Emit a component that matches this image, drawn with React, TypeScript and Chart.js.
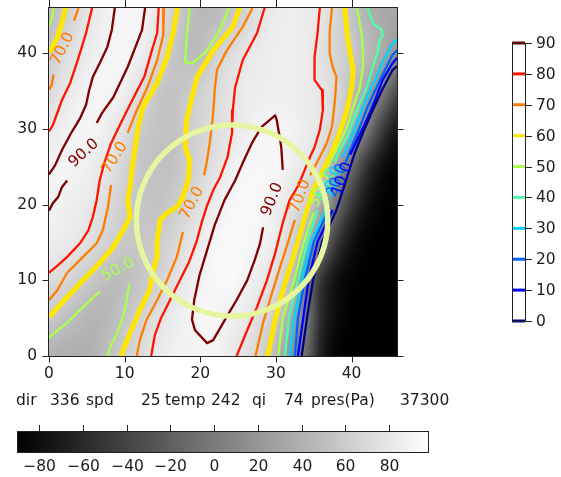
import React, { useEffect, useRef } from "react";
import { Chart, registerables } from "chart.js";
Chart.register(...registerables);

// ---------- axes ----------
const X_TICKS = [0, 10, 20, 30, 40];
const Y_TICKS = [0, 10, 20, 30, 40];
const X_MIN = 0, X_MAX = 46, Y_MIN = 0, Y_MAX = 46;

// ---------- contour levels ----------
const LEVELS = [0, 10, 20, 30, 40, 50, 60, 70, 80, 90];
const LEVEL_COLORS = ["#000080", "#0000ff", "#0063ff", "#00d4ff", "#4dffaa", "#aaff4d", "#ffe600", "#ff7d00", "#ff1400", "#800000"];

// ---------- background field (gray) ----------
const FIELD_MIN = -90.2, FIELD_MAX = 97.8;
const CB_TICKS = [-80, -60, -40, -20, 0, 20, 40, 60, 80];
const GRID_X = [0, 2, 4, 6, 8, 10, 12, 14, 16, 18, 20, 22, 24, 26, 28, 30, 32, 34, 36, 38, 40, 42, 44, 46];
const GRID_Y = [0, 5, 10, 15, 20, 25, 30, 35, 40, 45];
const F_Y0 = [40, 38, 37, 42, 52, 62, 72, 81, 86, 88, 89, 88, 83, 75, 65, 48, 15, -10, -70, -88, -90, -90, -90, -90];
const F_Y5 = [58, 52, 47, 42, 46, 55, 63, 74, 82, 88, 92, 91, 86, 82, 72, 58, 35, 2, -60, -82, -90, -90, -90, -90];
const F_Y10 = [72, 69, 62, 55, 48, 48, 55, 62, 72, 82, 89, 93, 94, 89, 83, 72, 53, 5, -55, -80, -88, -90, -90, -90];
const F_Y15 = [85, 83, 80, 71, 63, 57, 56, 59, 66, 76, 84, 91, 94, 93, 89, 83, 67, 40, 2, -50, -78, -88, -90, -90];
const F_Y20 = [89, 87, 84, 80, 70, 62, 56, 53, 57, 65, 76, 85, 91, 94, 92, 86, 78, 62, 35, -5, -50, -78, -88, -90];
const F_Y25 = [88, 91, 88, 84, 78, 65, 56, 52, 52, 59, 67, 76, 86, 91, 93, 92, 87, 80, 66, 27, -10, -55, -80, -88];
const F_Y30 = [82, 87, 91, 90, 84, 75, 59, 54, 52, 59, 66, 72, 79, 85, 90, 91, 88, 84, 79, 63, 40, 2, -45, -75];
const F_Y35 = [70, 80, 86, 91, 91, 86, 74, 58, 53, 57, 64, 71, 78, 83, 85, 86, 86, 84, 80, 70, 51, 33, 5, -35];
const F_Y40 = [58, 72, 80, 86, 91, 92, 87, 75, 58, 50, 48, 63, 73, 80, 84, 86, 86, 83, 76, 66, 59, 47, 37, 18];
const F_Y45 = [47, 60, 72, 82, 88, 93, 91, 82, 65, 53, 47, 47, 55, 66, 78, 84, 86, 84, 80, 67, 55, 41, 35, 32];
const FIELD_ROWS = [F_Y0, F_Y5, F_Y10, F_Y15, F_Y20, F_Y25, F_Y30, F_Y35, F_Y40, F_Y45];

// ---------- contour lines (x, y) ----------
const c50_a = [[0.6, 46], [0.4, 44.6], [0, 43.6]];
const c60_a = [[2.2, 46], [1.7, 44], [1.1, 42.1], [0.4, 40.7], [0, 40.2]];
const c70_a1 = [[3.9, 46], [3.3, 44.3]];
const c70_a2 = [[0.6, 37.2], [0.35, 35.8], [0, 35.2]];
const c80_a = [[5.7, 46], [4.9, 42.7], [3.8, 39.1], [2.8, 36.1], [1.7, 33.8], [0.5, 30.5], [0, 29.7]];
const c90_a = [[8.7, 46], [8.3, 43.1], [7.7, 40.8], [6.7, 38.7], [5.8, 36.9], [5.3, 35.1], [4.9, 33.2], [4.1, 31.4], [3.0, 29.6], [1.7, 27.2], [0.8, 25.2], [0, 24.0]];
const c90_b1 = [[12.7, 46], [12.3, 43.1], [11.6, 41.3], [10.4, 38.2], [8.5, 34.2], [7.0, 32.1], [6.3, 30.8]];
const c90_b2 = [[2.4, 23.2], [1.7, 22.3], [1.2, 21.0], [0.5, 20.2], [0, 19.2]];
const c80_b = [[14.5, 46], [14.3, 42.7], [13.6, 40.4], [12.6, 36.9], [11.0, 33.8], [9.5, 30.8], [8.2, 28.1], [7.3, 25.5], [6.7, 23.2], [6.3, 20.6], [5.8, 18.4], [5.2, 16.6], [4.1, 14.9], [2.4, 13.1], [1.2, 12.0], [0, 11.0]];
const c70_b1 = [[15.2, 46], [15.1, 42.4], [14.3, 39.1], [13.0, 35.5], [11.6, 32.5], [10.4, 29.5]];
const c70_b2 = [[8.2, 22.6], [7.8, 19.7], [7.1, 16.6], [6.3, 14.9], [4.5, 13.1], [2.4, 11.0], [1.1, 8.7], [0, 7.4]];
const c60_b = [[17.0, 46], [16.4, 42.7], [15.6, 39.5], [14.3, 36.1], [12.4, 32.9], [11.8, 30.3], [11.4, 27.6], [11.0, 25.0], [10.7, 22.3], [10.4, 20.6], [10.7, 18.4], [10.0, 17.0], [8.5, 14.4], [6.7, 12.3], [4.5, 10.0], [2.4, 7.8], [0.5, 5.7], [0, 5.2]];
const c50_b = [[18.6, 46], [18.2, 42.4], [18.0, 38.8], [19.0, 38.7], [20.9, 40.4], [22.6, 43.1], [23.8, 46]];
const c60_c = [[25.2, 46], [24.3, 43.5], [21.7, 40.4], [19.6, 36.9], [18.9, 34.2], [18.2, 31.2], [18.0, 27.6], [18.6, 25.9], [18.4, 23.2], [17.7, 21.0], [16.9, 19.7], [15.6, 18.9], [14.7, 18.0], [14.3, 15.3], [14.3, 13.1], [13.7, 11.0], [13.3, 8.7], [12.0, 6.1], [10.7, 3.0], [9.8, 0.8], [9.6, 0]];
const c50_c1 = [[0, 2.4], [0.4, 2.8], [2.4, 4.4], [4.5, 6.5], [6.7, 8.5]];
const c50_c2 = [[10.6, 9.6], [10.3, 7.4], [9.8, 5.2], [9.0, 3.0], [8.1, 1.2], [7.7, 0]];
const c70_c1 = [[26.9, 46], [25.6, 43.5], [23.5, 40.4], [22.2, 37.8], [21.9, 35.1], [21.7, 32.1], [21.3, 28.5], [20.9, 25.9], [20.5, 23.9]];
const c70_c2 = [[17.7, 16.4], [16.9, 13.1], [15.6, 10.0], [14.3, 7.4], [12.9, 4.8], [12.0, 2.1], [11.6, 0]];
const c80_c = [[28.5, 46], [27.5, 42.7], [25.6, 39.1], [24.6, 35.5], [24.3, 32.5], [24.2, 29.5], [23.6, 26.3], [22.6, 23.6], [21.7, 21.9], [20.9, 19.9], [20.2, 17.7], [19.5, 15.1], [18.5, 12.4], [17.3, 10.0], [16.0, 7.4], [14.8, 5.0], [14.0, 2.8], [13.5, 0]];
const c90_c = [[30.9, 24.6], [30.7, 27.6], [30.5, 28.9], [30.1, 31.2], [29.9, 31.8], [28.1, 30.3], [26.8, 28.1], [25.6, 25.5], [24.6, 23.2], [23.2, 20.6], [21.9, 17.3], [20.9, 14.0], [19.9, 10.7], [19.2, 7.4], [18.9, 4.8], [19.3, 3.4], [20.9, 1.7], [21.7, 2.1], [23.5, 5.2], [24.8, 7.4], [26.2, 10.0], [27.2, 12.7], [27.9, 14.9], [28.3, 17.0]];
const c80_d = [[35.8, 46], [35.5, 42.7], [35.1, 39.5], [35.1, 36.5], [36.1, 35.1], [36.2, 32.5], [35.8, 29.9], [35.1, 27.6], [34.5, 26.3], [33.8, 24.6], [33.0, 22.6], [31.8, 20.6], [30.9, 17.6], [29.9, 13.6], [28.8, 10.0], [27.5, 6.5], [26.2, 3.4], [24.8, 0]];
const c70_d1 = [[37.4, 46], [37.1, 42.7], [37.1, 40.0], [37.5, 38.2], [38.0, 36.9], [37.8, 33.8], [37.4, 30.3], [36.7, 28.1], [35.8, 26.3], [35.0, 24.8], [34.5, 23.9]];
const c70_d2 = [[32.5, 18.0], [31.4, 14.4], [30.3, 11.0], [29.2, 7.4], [28.3, 4.4], [27.3, 0]];
const c60_d = [[39.1, 46], [39.4, 42.7], [39.8, 40.0], [40.2, 37.8], [40.0, 35.5], [39.4, 32.5], [38.4, 29.5], [37.5, 27.2], [36.7, 25.5], [35.8, 23.6], [34.9, 21.9], [34.5, 20.6], [33.6, 17.6], [32.3, 13.1], [30.9, 8.7], [29.9, 4.8], [28.9, 0]];
const c50_d1 = [[40.7, 46], [41.3, 42.7], [41.5, 40.4], [41.5, 38.2], [41.1, 35.5], [40.2, 32.9], [39.4, 30.3], [38.4, 28.1], [37.5, 26.3], [36.9, 25.0]];
const c50_d2 = [[35.0, 19.0], [33.7, 15.1], [32.4, 10.0], [30.9, 5.0], [30.3, 0]];
const c40_1 = [[42.1, 46], [42.8, 44.0], [44.0, 43.1], [44.1, 42.4], [43.7, 41.7], [43.5, 40.4], [42.8, 38.2], [42.0, 35.5], [41.1, 33.4], [40.2, 31.2], [39.4, 28.9], [38.4, 27.2], [37.8, 25.6]];
const c40_2 = [[35.5, 19.3], [34.1, 15.0], [32.9, 10.0], [31.7, 5.0], [31.2, 0]];
const c30_1 = [[46, 41.9], [45.3, 41.1], [44.7, 40.0], [44.0, 38.7], [43.3, 36.9], [42.4, 35.1], [41.5, 32.9], [40.7, 30.8], [39.8, 28.5], [38.8, 26.3]];
const c30_2 = [[36.6, 19.3], [34.6, 15.1], [33.4, 10.0], [32.4, 5.0], [31.8, 0]];
const c20_1 = [[46, 40.4], [45.4, 39.8], [44.4, 37.8], [43.3, 35.5], [42.1, 32.9], [41.1, 30.3], [40.0, 27.6], [39.2, 25.6]];
const c20_2 = [[37.1, 19.6], [35.0, 15.1], [33.8, 10.0], [32.9, 5.0], [32.5, 0]];
const c10_1 = [[46, 39.4], [45.4, 38.7], [44.1, 36.5], [43.1, 33.8], [42.0, 31.2], [40.7, 28.5], [39.8, 26.6]];
const c10_2 = [[37.5, 19.3], [35.5, 15.1], [34.3, 10.0], [33.6, 5.0], [32.9, 0]];
const c0_a = [[46, 38.3], [45.4, 37.8], [44.0, 35.1], [42.8, 32.5], [41.5, 29.5], [40.4, 26.8], [39.2, 23.0], [38.0, 19.3], [36.1, 15.1], [34.9, 10.0], [34.1, 5.0], [33.4, 0]];

const CONTOURS = [
  { level: 0, pts: c0_a },
  { level: 10, pts: c10_1 }, { level: 10, pts: c10_2 },
  { level: 20, pts: c20_1 }, { level: 20, pts: c20_2 },
  { level: 30, pts: c30_1 }, { level: 30, pts: c30_2 },
  { level: 40, pts: c40_1 }, { level: 40, pts: c40_2 },
  { level: 50, pts: c50_a }, { level: 50, pts: c50_b }, { level: 50, pts: c50_c1 }, { level: 50, pts: c50_c2 }, { level: 50, pts: c50_d1 }, { level: 50, pts: c50_d2 },
  { level: 60, pts: c60_a }, { level: 60, pts: c60_b }, { level: 60, pts: c60_c }, { level: 60, pts: c60_d },
  { level: 70, pts: c70_a1 }, { level: 70, pts: c70_a2 }, { level: 70, pts: c70_b1 }, { level: 70, pts: c70_b2 }, { level: 70, pts: c70_c1 }, { level: 70, pts: c70_c2 }, { level: 70, pts: c70_d1 }, { level: 70, pts: c70_d2 },
  { level: 80, pts: c80_a }, { level: 80, pts: c80_b }, { level: 80, pts: c80_c }, { level: 80, pts: c80_d },
  { level: 90, pts: c90_a }, { level: 90, pts: c90_b1 }, { level: 90, pts: c90_b2 }, { level: 90, pts: c90_c },
];

// inline contour labels: [level, x, y, angle]
const CLABELS = [
  [70, 1.8, 40.6, -63], [90, 4.6, 26.8, -42], [70, 8.7, 26.2, -58], [50, 9.1, 11.4, -28],
  [70, 18.9, 20.2, -62], [90, 29.5, 20.7, -68], [70, 33.2, 21.1, -70],
  [50, 35.8, 21.9, -70], [40, 36.7, 22.6, -70], [30, 37.5, 22.9, -70], [20, 38.1, 23.2, -70], [10, 38.8, 23.4, -70],
];

// circle marker
const CIRCLE_X = 24.2, CIRCLE_Y = 17.9, CIRCLE_R = 12.65;

// station info
const DIR = 336, SPD = 25, TEMP = 242, QI = 74, PRES = 37300;

const FONT = '"DejaVu Sans", sans-serif';
const TXT = "#1c1c1c";

const levelColor = (lv: number) => LEVEL_COLORS[LEVELS.indexOf(lv)];
const fmtMinus = (v: number) => String(v).replace("-", "\u2212");

const drawPlugin = {
  id: "contourDecor",
  beforeDatasetsDraw(chart: any) {
    const { ctx, chartArea: a, scales } = chart;
    const xs = scales.x, ys = scales.y;
    const nx = GRID_X.length, ny = GRID_Y.length;
    const off = document.createElement("canvas");
    off.width = nx; off.height = ny;
    const octx = off.getContext("2d")!;
    const img = octx.createImageData(nx, ny);
    for (let j = 0; j < ny; j++) {
      const row = FIELD_ROWS[ny - 1 - j];
      for (let i = 0; i < nx; i++) {
        let t = (row[i] - FIELD_MIN) / (FIELD_MAX - FIELD_MIN);
        t = Math.max(0, Math.min(1, t));
        const g = Math.round(t * 255);
        const k = (j * nx + i) * 4;
        img.data[k] = g; img.data[k + 1] = g; img.data[k + 2] = g; img.data[k + 3] = 255;
      }
    }
    octx.putImageData(img, 0, 0);
    const dx = GRID_X[1] - GRID_X[0], dy = GRID_Y[1] - GRID_Y[0];
    const l = xs.getPixelForValue(GRID_X[0] - dx / 2);
    const r = xs.getPixelForValue(GRID_X[nx - 1] + dx / 2);
    const t = ys.getPixelForValue(GRID_Y[ny - 1] + dy / 2);
    const b = ys.getPixelForValue(GRID_Y[0] - dy / 2);
    ctx.save();
    ctx.beginPath();
    ctx.rect(a.left, a.top, a.right - a.left, a.bottom - a.top);
    ctx.clip();
    ctx.imageSmoothingEnabled = true;
    ctx.imageSmoothingQuality = "high";
    ctx.drawImage(off, 0, 0, nx, ny, l, t, r - l, b - t);
    ctx.restore();
  },
  afterDatasetsDraw(chart: any) {
    const { ctx, chartArea: a, scales } = chart;
    const xs = scales.x, ys = scales.y;
    // contour labels
    ctx.save();
    ctx.font = `15.5px ${FONT}`;
    ctx.textAlign = "center";
    ctx.textBaseline = "middle";
    for (const [lv, x, y, ang] of CLABELS) {
      ctx.save();
      ctx.translate(xs.getPixelForValue(x), ys.getPixelForValue(y));
      ctx.rotate((ang * Math.PI) / 180);
      ctx.fillStyle = levelColor(lv);
      ctx.fillText(lv.toFixed(1), 0, 0);
      ctx.restore();
    }
    ctx.restore();
    // circle
    ctx.save();
    const cx = xs.getPixelForValue(CIRCLE_X), cy = ys.getPixelForValue(CIRCLE_Y);
    const rr = xs.getPixelForValue(CIRCLE_X + CIRCLE_R) - cx;
    ctx.beginPath();
    ctx.arc(cx, cy, rr, 0, Math.PI * 2);
    ctx.strokeStyle = "#e6f5a0";
    ctx.lineWidth = 5.5;
    ctx.stroke();
    ctx.restore();
    // frame + ticks
    ctx.save();
    ctx.strokeStyle = "#222";
    ctx.lineWidth = 1;
    const L = Math.round(a.left) - 0.5, R = Math.round(a.right) + 0.5;
    const T = Math.round(a.top) - 0.5, B = Math.round(a.bottom) + 0.5;
    ctx.strokeRect(L, T, R - L, B - T);
    ctx.beginPath();
    for (const v of X_TICKS) {
      const px = Math.round(xs.getPixelForValue(v)) + 0.5;
      ctx.moveTo(px, B); ctx.lineTo(px, B + 6);
      ctx.moveTo(px, T); ctx.lineTo(px, T - 8);
    }
    for (const v of Y_TICKS) {
      const py = Math.round(ys.getPixelForValue(v)) + 0.5;
      ctx.moveTo(L, py); ctx.lineTo(L - 6, py);
      ctx.moveTo(R, py); ctx.lineTo(R + 6, py);
    }
    ctx.stroke();
    ctx.restore();
  },
  afterDraw(chart: any) {
    const { ctx } = chart;
    ctx.save();
    // level colorbar (right)
    const cbL = 512, cbW = 13, cbT = 43, cbB = 321;
    const lvMin = LEVELS[0], lvMax = LEVELS[LEVELS.length - 1];
    ctx.fillStyle = "#ffffff";
    ctx.fillRect(cbL, cbT, cbW, cbB - cbT);
    LEVELS.forEach((lv, i) => {
      const y = cbB - ((lv - lvMin) / (lvMax - lvMin)) * (cbB - cbT);
      ctx.strokeStyle = LEVEL_COLORS[i];
      ctx.lineWidth = 3;
      ctx.beginPath();
      ctx.moveTo(cbL, y); ctx.lineTo(cbL + cbW, y);
      ctx.stroke();
    });
    ctx.strokeStyle = "#222";
    ctx.lineWidth = 1;
    ctx.strokeRect(cbL + 0.5, cbT + 0.5, cbW, cbB - cbT);
    ctx.font = `15.5px ${FONT}`;
    ctx.fillStyle = TXT;
    ctx.textAlign = "left";
    ctx.textBaseline = "middle";
    LEVELS.forEach((lv) => {
      const y = Math.round(cbB - ((lv - lvMin) / (lvMax - lvMin)) * (cbB - cbT)) + 0.5;
      ctx.beginPath();
      ctx.moveTo(cbL + cbW, y); ctx.lineTo(cbL + cbW + 7, y);
      ctx.stroke();
      ctx.fillText(String(lv), cbL + cbW + 11, y);
    });
    // info line
    ctx.font = `15.5px ${FONT}`;
    const info = ["dir", String(DIR), "spd", String(SPD), "temp", String(TEMP), "qi", String(QI), "pres(Pa)", String(PRES)];
    const infoX = [16, 50, 86, 141, 165, 211, 252, 284, 311, 400];
    info.forEach((s, i) => ctx.fillText(s, infoX[i], 401));
    // gray colorbar (bottom)
    const gL = 17, gR = 428, gT = 431, gB = 452;
    const grad = ctx.createLinearGradient(gL, 0, gR, 0);
    grad.addColorStop(0, "#000000");
    grad.addColorStop(1, "#ffffff");
    ctx.fillStyle = grad;
    ctx.fillRect(gL, gT, gR - gL, gB - gT);
    ctx.strokeStyle = "#222";
    ctx.strokeRect(gL + 0.5, gT + 0.5, gR - gL, gB - gT);
    ctx.fillStyle = TXT;
    ctx.font = `15.5px ${FONT}`;
    ctx.textAlign = "center";
    ctx.beginPath();
    CB_TICKS.forEach((v) => {
      const x = Math.round(gL + ((v - FIELD_MIN) / (FIELD_MAX - FIELD_MIN)) * (gR - gL)) + 0.5;
      ctx.moveTo(x, gT - 6); ctx.lineTo(x, gT);
      ctx.fillText(fmtMinus(v), x, 467);
    });
    ctx.stroke();
    ctx.restore();
  },
};

export default function App() {
  const ref = useRef<HTMLCanvasElement>(null);
  useEffect(() => {
    const canvas = ref.current!;
    const datasets = CONTOURS.map((c) => ({
      data: c.pts.map(([x, y]) => ({ x, y })),
      showLine: true,
      borderColor: levelColor(c.level),
      borderWidth: c.level === 60 ? 5 : 2.3,
      pointRadius: 0,
      fill: false,
      tension: 0,
      borderJoinStyle: "round",
    }));
    const tickFont = { family: FONT, size: 15.5 };
    const chart = new Chart(canvas, {
      type: "scatter",
      data: { datasets } as any,
      options: {
        responsive: false,
        animation: false,
        devicePixelRatio: 1,
        layout: { padding: { left: 0, top: 8, right: 164, bottom: 0 } },
        plugins: { legend: { display: false }, tooltip: { enabled: false } },
        scales: {
          x: {
            type: "linear", min: X_MIN, max: X_MAX,
            grid: { display: false, drawTicks: false },
            border: { display: false },
            ticks: { font: tickFont, color: TXT, padding: 9, maxRotation: 0, autoSkip: false },
            afterBuildTicks: (s: any) => { s.ticks = X_TICKS.map((v) => ({ value: v })); },
            afterFit: (s: any) => { s.height = 121; s.paddingLeft = 0; s.paddingRight = 0; },
          },
          y: {
            type: "linear", min: Y_MIN, max: Y_MAX,
            grid: { display: false, drawTicks: false },
            border: { display: false },
            ticks: { font: tickFont, color: TXT, padding: 12, autoSkip: false },
            afterBuildTicks: (s: any) => { s.ticks = Y_TICKS.map((v) => ({ value: v })); },
            afterFit: (s: any) => { s.width = 49; s.paddingTop = 0; s.paddingBottom = 0; },
          },
        },
      } as any,
      plugins: [drawPlugin],
    });
    return () => chart.destroy();
  }, []);
  return (
    <div style={{ position: "absolute", left: 0, top: 0, width: 561, height: 477, background: "#ffffff" }}>
      <canvas ref={ref} width={561} height={477} style={{ display: "block" }} />
    </div>
  );
}
